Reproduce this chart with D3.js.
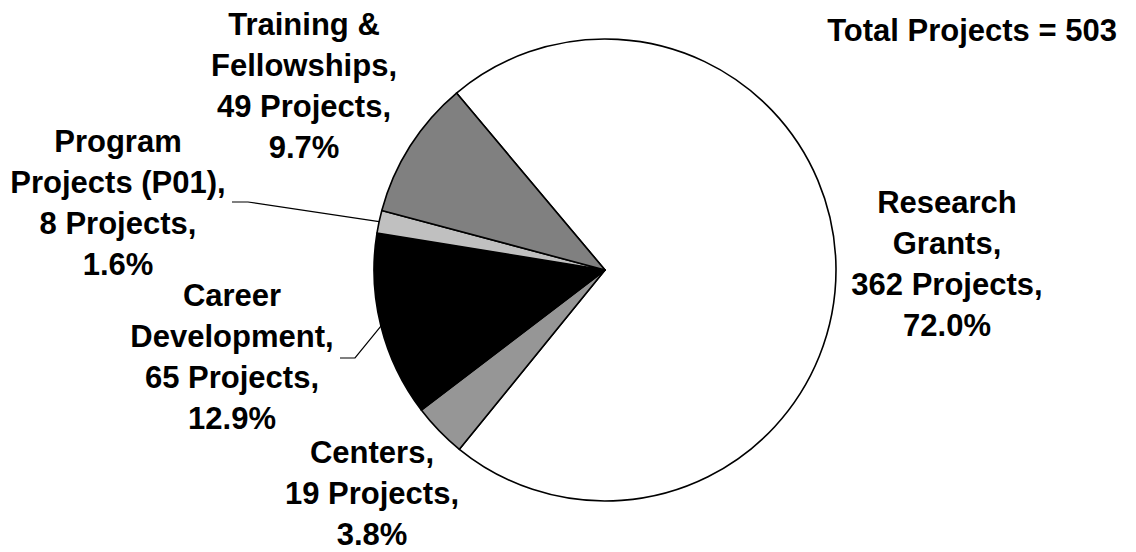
<!DOCTYPE html>
<html>
<head>
<meta charset="utf-8">
<script src="https://cdn.jsdelivr.net/npm/d3@7"></script>
<style>
  body { margin: 0; background: #fff; }
  text { font-family: "Liberation Sans", Arial, sans-serif; font-weight: bold; fill: #000; }
</style>
</head>
<body>
<div id="chart"></div>
<script>
// data
var categories = ['Research Grants', 'Centers', 'Career Development', 'Program Projects (P01)', 'Training & Fellowships'];
var projects = [362, 19, 65, 8, 49];
var total = 503;
var label_lines = [
  ['Research', 'Grants,'],
  ['Centers,'],
  ['Career', 'Development,'],
  ['Program', 'Projects (P01),'],
  ['Training &', 'Fellowships,']
];
var fills = ['#ffffff', '#969696', '#000000', '#c0c0c0', '#808080'];

var chart_width = 1136;
var chart_height = 552;
var radius = 231;
var cx = 605, cy = 270;
var line_h = 41;

// where each label block sits (center x, first baseline) and whether it gets a leader line
var label_pos = [
  {x: 947, y: 213},
  {x: 372, y: 463},
  {x: 232, y: 306, leader: [[340, 358], [355, 358]]},
  {x: 118, y: 152, leader: [[232, 202], [248, 202]]},
  {x: 304, y: 35}
];

var svg = d3.select('#chart')
  .append('svg')
  .attr('width', chart_width)
  .attr('height', chart_height);

var start = 320 * Math.PI / 180;
var pie = d3.pie()
  .sort(null)
  .startAngle(start)
  .endAngle(start + 2 * Math.PI);

var arc = d3.arc().innerRadius(0).outerRadius(radius);
var edge = d3.arc().innerRadius(radius).outerRadius(radius);

var arcs = pie(projects);

var g = svg.append('g').attr('transform', 'translate(' + cx + ',' + cy + ')');

g.selectAll('path')
  .data(arcs)
  .enter()
  .append('path')
  .attr('d', arc)
  .attr('fill', function(d, i) { return fills[i]; })
  .attr('stroke', '#000')
  .attr('stroke-width', 1.6)
  .attr('stroke-linejoin', 'round');

// leader lines from label to the slice edge
arcs.forEach(function(d, i) {
  var p = label_pos[i];
  if (!p.leader) return;
  var c = edge.centroid(d);
  var pts = p.leader.concat([[cx + c[0], cy + c[1]]]);
  svg.append('path')
    .attr('d', d3.line()(pts))
    .attr('fill', 'none')
    .attr('stroke', '#000')
    .attr('stroke-width', 1.2);
});

// labels
arcs.forEach(function(d, i) {
  var p = label_pos[i];
  var pct = (projects[i] / total * 100).toFixed(1) + '%';
  var lines = label_lines[i].concat([projects[i] + ' Projects,', pct]);
  var t = svg.append('text')
    .attr('text-anchor', 'middle')
    .attr('font-size', 31);
  lines.forEach(function(s, k) {
    t.append('tspan')
      .attr('x', p.x)
      .attr('y', p.y + k * line_h)
      .text(s);
  });
});

svg.append('text')
  .attr('x', 972)
  .attr('y', 41)
  .attr('text-anchor', 'middle')
  .attr('font-size', 31)
  .text('Total Projects = ' + total);
</script>
</body>
</html>
